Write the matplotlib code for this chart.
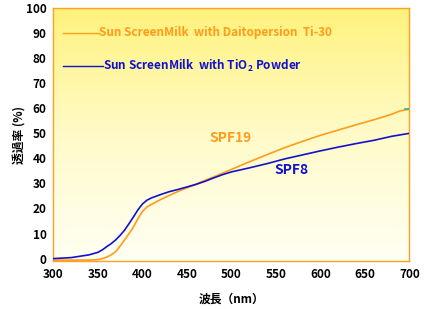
import numpy as np
import matplotlib
matplotlib.use('Agg')
import matplotlib.pyplot as plt
from matplotlib.colors import LinearSegmentedColormap

plt.rcParams['font.family'] = ['Noto Sans CJK JP', 'DejaVu Sans']
plt.rcParams['mathtext.default'] = 'regular'

# wavelength (nm) and transmittance (%)
wl = [300, 320, 340, 350, 355, 360, 365, 370, 375, 380, 385, 390, 395, 400, 405, 410,
      420, 430, 440, 450, 460, 470, 480, 490, 500, 520, 540, 560, 580, 600, 620, 640,
      660, 680, 690, 700]
ti30 = [-0.6, -0.6, -0.6, -0.4, 0.0, 0.6, 1.5, 2.8, 5.0, 7.5, 10.0, 12.7, 16.0, 18.8, 20.6,
        21.6, 23.5, 25.2, 26.8, 28.2, 29.7, 31.2, 32.6, 34.1, 35.6, 38.6, 41.5, 44.3,
        46.8, 49.2, 51.3, 53.4, 55.4, 57.6, 59.0, 59.6]
tio2 = [0.0, 0.4, 1.5, 2.5, 3.5, 4.8, 6.0, 7.5, 9.3, 11.4, 14.0, 16.7, 19.5, 21.8, 23.3,
        24.2, 25.5, 26.7, 27.6, 28.6, 29.6, 30.8, 32.2, 33.5, 34.6, 36.2, 37.9, 39.8,
        41.4, 43.0, 44.5, 45.9, 47.2, 48.8, 49.4, 50.0]

label_ti30 = 'Sun ScreenMilk  with Daitopersion  Ti-30'
label_tio2 = r'Sun ScreenMilk  with TiO$_2$ Powder'

orange = '#FF9C1A'
blue = '#1212CC'

fig = plt.figure(figsize=(4.31, 3.09), dpi=100)
ax = fig.add_axes([0.124, 0.155, 0.826, 0.819])

# yellow gradient background
cmap = LinearSegmentedColormap.from_list('bg', ['#FFFFF4', '#FFFBC8', '#FFF27C'])
grad = np.linspace(0, 1, 256).reshape(-1, 1)
ax.imshow(grad, cmap=cmap, aspect='auto', extent=[300, 700, -1, 100],
          origin='lower', zorder=0)

ax.plot(wl, ti30, color=orange, lw=1.2, zorder=2)
ax.plot(wl, tio2, color=blue, lw=1.2, zorder=3)
ax.plot([695, 700], [59.6, 59.6], color='#20B0B0', lw=1.2, zorder=3)

# legend drawn as lines + text
ax.plot([310.5, 351], [90.2, 90.2], color=orange, lw=1.0)
ax.text(351, 90.2, label_ti30, color=orange, fontsize=8.5, fontweight='bold',
        va='center', ha='left')
ax.plot([310.5, 356], [76.8, 76.8], color=blue, lw=1.0)
ax.text(356, 76.8, label_tio2, color=blue, fontsize=8.5, fontweight='bold',
        va='center', ha='left')

ax.text(499, 48, 'SPF19', color=orange, fontsize=10, fontweight='bold',
        ha='center', va='center')
ax.text(568, 35.3, 'SPF8', color=blue, fontsize=10, fontweight='bold',
        ha='center', va='center')

ax.set_xlim(300, 700)
ax.set_ylim(-1, 100)
ax.set_xticks(range(300, 701, 50))
ax.set_yticks(range(0, 101, 10))
ax.tick_params(length=0, labelsize=8.5, pad=5)
for lab in ax.get_xticklabels() + ax.get_yticklabels():
    lab.set_fontweight('bold')
for sp in ax.spines.values():
    sp.set_color('#FFA020')
    sp.set_linewidth(1.0)

ax.set_xlabel('波長（nm）', fontsize=8.5, fontweight='bold', labelpad=8)
ax.set_ylabel('透過率 (%)', fontsize=8.5, fontweight='bold', labelpad=0)

fig.savefig('out.png', dpi=100)
